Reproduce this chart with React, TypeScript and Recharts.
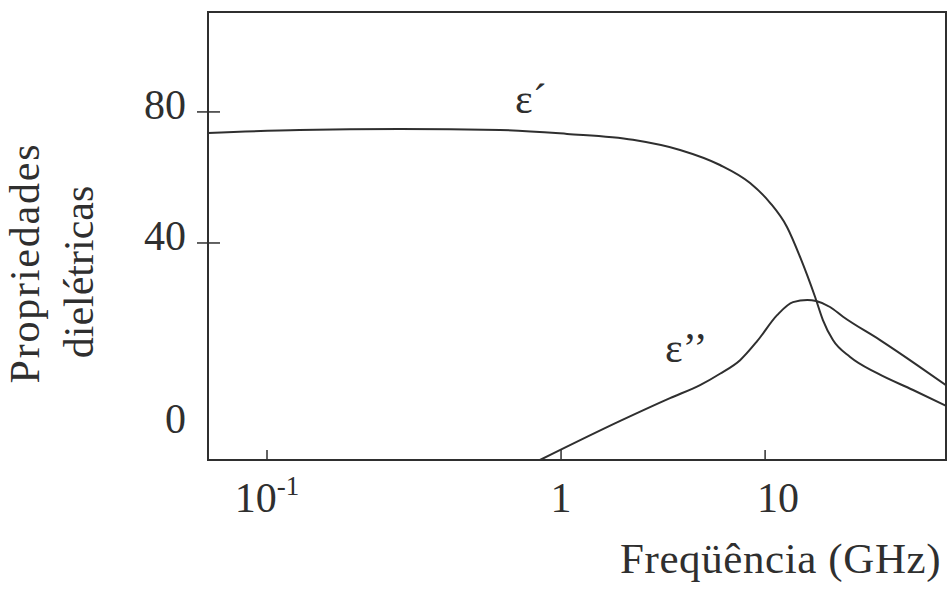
import React from 'react';
import { LineChart, Line, XAxis, YAxis, ReferenceArea } from 'recharts';

// Dielectric properties of water vs frequency (GHz)
const realFreq = [0.063, 0.129, 0.283, 0.62, 1.07, 2.25, 3.83, 6.01, 8.44, 10.6, 12.8, 14.85, 17.6, 19.2, 21.5, 26.1, 35.4, 53.1, 77];
const realValue = [73.6, 74.5, 74.8, 74.5, 73.3, 71.5, 68.4, 63.8, 58.3, 52.2, 44.9, 37.4, 30.0, 25.8, 22.1, 19.0, 16.0, 12.9, 10.0];

const lossFreq = [0.848, 1.95, 3.42, 4.8, 6.01, 7.54, 9.14, 11.45, 13.7, 16.1, 17.8, 20.8, 24.1, 36.6, 55.6, 77];
const lossValue = [0, 7.2, 11.4, 13.8, 15.9, 18.4, 21.9, 26.7, 29.1, 29.5, 29.3, 28.2, 26.4, 22.1, 17.5, 13.8];

const xTickFreq = [0.1, 1, 10];
const xTickBase = ['10', '1', '10'];
const xTickExp = ['-1', '', ''];
const yTickValues = [0, 40, 80];

const freqRange = [0.063, 77];
const valueRange = [0, 110.5];

// the drawing is schematic: the 0.1–1 decade is wider than 1–10,
// and the 0–40 band is stretched compared with 40–80
const xPos = (f: number) => {
  const lf = Math.log10(f);
  return lf < 0 ? lf * 1.441 : lf;
};
const yPos = (v: number) => (v >= 40 ? v : 40 - (40 - v) * 1.656);

const toPoints = (fs: number[], vs: number[]) =>
  fs.map((f, i) => ({ x: xPos(f), y: yPos(vs[i]) }));

const realData = toPoints(realFreq, realValue);
const lossData = toPoints(lossFreq, lossValue);

const INK = '#2f2f2f';
const FONT = '"Liberation Serif", "Times New Roman", serif';

const FreqTick = (props: any) => {
  const { x, y, index } = props;
  const shift = index === 2 ? 13 : 0;
  return (
    <g>
      <line x1={x} y1={y} x2={x} y2={y - 10} stroke={INK} strokeWidth={1.5} />
      <text x={x + shift} y={y + 52} textAnchor="middle" fontFamily={FONT} fontSize={42} fill={INK}>
        {xTickBase[index]}
        {xTickExp[index] && (
          <tspan dy={-17} fontSize={27}>
            {xTickExp[index]}
          </tspan>
        )}
      </text>
    </g>
  );
};

const PropTick = (props: any) => {
  const { x, y, index } = props;
  const isZero = yTickValues[index] === 0;
  return (
    <g>
      {!isZero && <line x1={x - 11} y1={y} x2={x + 12} y2={y} stroke={INK} strokeWidth={1.5} />}
      <text x={x - 22} y={isZero ? y - 27 : y + 7} textAnchor="end" fontFamily={FONT} fontSize={42} fill={INK}>
        {yTickValues[index]}
      </text>
    </g>
  );
};

const YTitle = () => (
  <g fontFamily={FONT} fill={INK}>
    <text transform="translate(39, 263) rotate(-90)" textAnchor="middle" fontSize={42} letterSpacing={1.8}>
      Propriedades
    </text>
    <text transform="translate(93, 272) rotate(-90)" textAnchor="middle" fontSize={42}>
      dielétricas
    </text>
    <text x={515} y={113} fontSize={42}>ε´</text>
    <text x={665} y={362} fontSize={42}>ε’’</text>
  </g>
);

const XTitle = () => (
  <text x={620} y={573} fontFamily={FONT} fontSize={43} letterSpacing={0.6} fill={INK}>
    Freqüência (GHz)
  </text>
);

export default function App() {
  const xDomain = [xPos(freqRange[0]), xPos(freqRange[1])];
  const yDomain = [yPos(valueRange[0]), yPos(valueRange[1])];
  return (
    <div style={{ position: 'absolute', left: 0, top: 0, background: '#fff' }}>
      <LineChart width={947} height={590} margin={{ top: 12, right: 1, left: 0, bottom: 0 }}>
        <XAxis
          type="number"
          dataKey="x"
          domain={xDomain}
          allowDataOverflow
          ticks={xTickFreq.map(xPos)}
          interval={0}
          tick={<FreqTick />}
          tickSize={0}
          tickMargin={0}
          tickLine={false}
          axisLine={{ stroke: INK, strokeWidth: 2 }}
          height={130}
          label={{ content: () => <XTitle /> }}
        />
        <YAxis
          type="number"
          dataKey="y"
          domain={yDomain}
          allowDataOverflow
          ticks={yTickValues.map(yPos)}
          interval={0}
          tick={<PropTick />}
          tickSize={0}
          tickMargin={0}
          tickLine={false}
          axisLine={{ stroke: INK, strokeWidth: 2 }}
          width={208}
          label={{ content: () => <YTitle /> }}
        />
        <ReferenceArea
          x1={xDomain[0]}
          x2={xDomain[1]}
          y1={yDomain[0]}
          y2={yDomain[1]}
          fill="none"
          fillOpacity={0}
          stroke={INK}
          strokeWidth={2}
        />
        <Line
          data={realData}
          dataKey="y"
          type="monotone"
          stroke={INK}
          strokeWidth={2}
          dot={false}
          activeDot={false}
          isAnimationActive={false}
        />
        <Line
          data={lossData}
          dataKey="y"
          type="monotone"
          stroke={INK}
          strokeWidth={2}
          dot={false}
          activeDot={false}
          isAnimationActive={false}
        />
      </LineChart>
    </div>
  );
}
